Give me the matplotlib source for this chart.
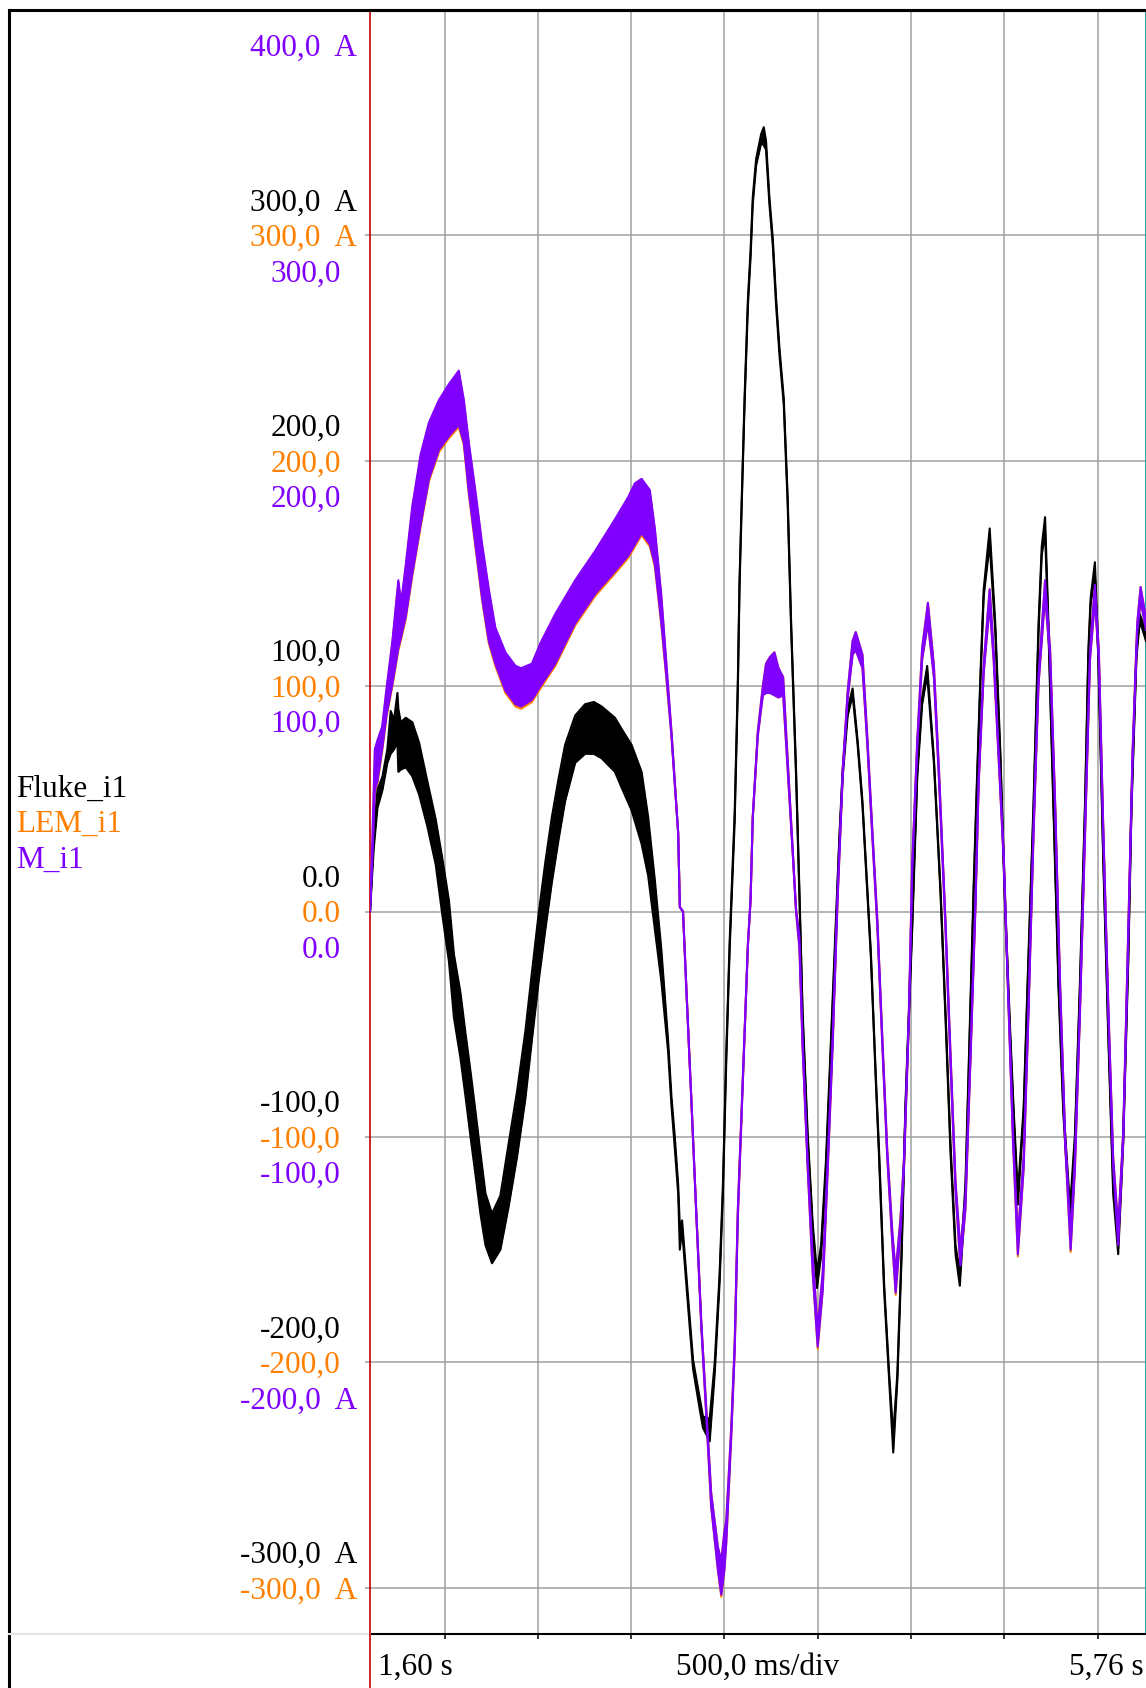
import numpy as np
import matplotlib.pyplot as plt
from matplotlib.lines import Line2D

plt.rcParams['font.family'] = ['Liberation Serif', 'DejaVu Serif']

# recorded currents: (time in s, lower edge in A, upper edge in A) of the ripple band
fluke_i1 = [
    (1.600, 0, 0), (1.620, 28, 34), (1.640, 46, 54), (1.667, 54, 60), (1.693, 66, 72),
    (1.711, 70, 89), (1.729, 72, 85), (1.747, 75, 97), (1.752, 62, 90), (1.765, 63, 84),
    (1.792, 64, 86), (1.827, 60, 84), (1.863, 52, 75), (1.907, 38, 58), (1.952, 21, 41),
    (1.987, -1, 24), (2.023, -22, 5), (2.050, -47, -19), (2.085, -65, -36), (2.112, -82, -54),
    (2.139, -100, -71), (2.166, -117, -89), (2.192, -134, -107), (2.219, -148, -125), (2.254, -156, -134),
    (2.299, -150, -126), (2.343, -131, -103), (2.388, -109, -80), (2.433, -83, -53), (2.468, -57, -27),
    (2.504, -31, -1), (2.540, -8, 22), (2.575, 13, 42), (2.611, 32, 59), (2.646, 49, 74),
    (2.700, 66, 87), (2.753, 70, 92), (2.800, 70, 93), (2.842, 68, 91), (2.913, 62, 86),
    (2.949, 55, 81), (3.002, 45, 74), (3.020, 40, 70), (3.056, 30, 62), (3.091, 16, 42),
    (3.127, -8, 14), (3.162, -31, -17), (3.198, -62, -57), (3.216, -86, -82), (3.234, -105, -100),
    (3.252, -125, -121), (3.261, -150, -140), (3.273, -141, -137), (3.305, -175, -171), (3.332, -203, -199),
    (3.368, -221, -216), (3.385, -229, -224), (3.421, -235, -225), (3.448, -205, -200), (3.474, -165, -161),
    (3.492, -125, -121), (3.510, -66, -62), (3.528, -17, -13), (3.555, 40, 44), (3.572, 99, 103),
    (3.581, 144, 147), (3.593, 181, 184), (3.608, 225, 228), (3.626, 269, 272), (3.640, 290, 293),
    (3.652, 314, 317), (3.670, 331, 334), (3.697, 341, 345), (3.711, 340, 348), (3.723, 338, 342),
    (3.741, 314, 317), (3.759, 296, 299), (3.777, 269, 272), (3.795, 247, 250), (3.818, 225, 228),
    (3.839, 181, 184), (3.857, 127, 130), (3.884, 60, 63), (3.902, 7, 9), (3.919, -47, -44),
    (3.946, -101, -98), (3.973, -141, -138), (3.996, -167, -160), (4.018, -153, -148), (4.044, -115, -111),
    (4.071, -61, -57), (4.098, -7, -4), (4.116, 31, 33), (4.134, 60, 63), (4.161, 87, 90),
    (4.187, 96, 99), (4.214, 74, 76), (4.240, 47, 49), (4.258, 20, 22), (4.285, -20, -18),
    (4.311, -74, -72), (4.329, -109, -106), (4.356, -168, -165), (4.383, -208, -205), (4.405, -240, -232),
    (4.427, -208, -205), (4.449, -155, -152), (4.471, -87, -84), (4.489, -47, -44), (4.507, -7, -4),
    (4.534, 60, 63), (4.560, 92, 95), (4.587, 105, 109), (4.623, 66, 68), (4.659, 7, 9),
    (4.685, -47, -44), (4.712, -107, -103), (4.739, -152, -148), (4.762, -166, -160), (4.792, -125, -121),
    (4.818, -46, -42), (4.837, 11, 14), (4.854, 56, 59), (4.872, 101, 104), (4.890, 140, 143),
    (4.922, 163, 170), (4.952, 124, 128), (4.979, 68, 71), (5.005, 0, 3), (5.032, -56, -53),
    (5.050, -90, -87), (5.073, -130, -125), (5.104, -90, -87), (5.130, -22, -19), (5.157, 45, 48),
    (5.184, 124, 128), (5.201, 158, 162), (5.219, 168, 175), (5.237, 124, 128), (5.264, 45, 48),
    (5.291, -34, -31), (5.317, -90, -87), (5.353, -137, -131), (5.379, -102, -99), (5.406, -34, -31),
    (5.433, 45, 48), (5.451, 113, 116), (5.463, 136, 139), (5.486, 150, 155), (5.504, 113, 116),
    (5.531, 22, 25), (5.558, -56, -53), (5.584, -125, -121), (5.611, -152, -146), (5.638, -102, -99),
    (5.665, -22, -19), (5.682, 45, 48), (5.709, 113, 116), (5.727, 129, 132), (5.760, 120, 124),
]

lem_i1 = [
    (1.600, 0, 0), (1.612, 21, 29), (1.626, 53, 71), (1.640, 57, 75), (1.665, 71, 81),
    (1.690, 87, 99), (1.720, 100, 119), (1.752, 116, 146), (1.767, 121, 136), (1.792, 130, 153),
    (1.827, 149, 179), (1.872, 171, 202), (1.916, 191, 216), (1.970, 204, 226), (2.023, 210, 233),
    (2.076, 215, 239), (2.103, 207, 226), (2.130, 185, 207), (2.166, 161, 185), (2.201, 138, 162),
    (2.237, 119, 142), (2.272, 109, 125), (2.326, 97, 114), (2.380, 91, 108), (2.410, 90, 107),
    (2.468, 93, 109), (2.513, 99, 118), (2.593, 109, 131), (2.700, 127, 146), (2.807, 140, 159),
    (2.913, 150, 173), (2.985, 157, 183), (3.020, 162, 189), (3.056, 167, 191), (3.100, 162, 186),
    (3.127, 153, 169), (3.162, 127, 139), (3.189, 103, 109), (3.216, 78, 80), (3.252, 35, 35),
    (3.261, 2, 2), (3.278, 0, 0), (3.296, -35, -34), (3.323, -84, -84), (3.349, -134, -133),
    (3.376, -184, -182), (3.403, -224, -221), (3.429, -264, -258), (3.465, -292, -282), (3.483, -304, -288),
    (3.500, -292, -275), (3.510, -280, -270), (3.536, -234, -230), (3.555, -195, -192), (3.572, -135, -132),
    (3.599, -75, -73), (3.626, -15, -14), (3.640, 5, 5), (3.652, 42, 42), (3.679, 78, 80),
    (3.706, 96, 100), (3.723, 97, 110), (3.745, 97, 113), (3.768, 96, 115), (3.790, 95, 108),
    (3.815, 96, 104), (3.840, 62, 66), (3.866, 26, 28), (3.884, 0, 1), (3.902, -16, -11),
    (3.919, -60, -57), (3.946, -113, -110), (3.973, -160, -153), (4.000, -194, -185), (4.027, -168, -160),
    (4.054, -114, -110), (4.080, -60, -56), (4.107, 6, 9), (4.134, 60, 63), (4.161, 95, 98),
    (4.187, 114, 120), (4.204, 116, 124), (4.240, 108, 114), (4.267, 73, 76), (4.293, 33, 36),
    (4.320, -7, -4), (4.347, -60, -57), (4.373, -109, -106), (4.400, -147, -142), (4.418, -170, -160),
    (4.444, -142, -136), (4.462, -115, -111), (4.489, -48, -45), (4.507, 19, 22), (4.534, 73, 76),
    (4.560, 112, 117), (4.591, 128, 137), (4.623, 104, 109), (4.650, 59, 63), (4.685, -7, -4),
    (4.712, -67, -63), (4.739, -124, -120), (4.765, -158, -150), (4.792, -132, -127), (4.818, -68, -65),
    (4.845, 0, 3), (4.863, 57, 60), (4.890, 106, 110), (4.922, 136, 143), (4.943, 112, 116),
    (4.970, 68, 71), (4.997, 23, 26), (5.024, -45, -42), (5.047, -102, -98), (5.073, -153, -144),
    (5.104, -114, -109), (5.130, -45, -42), (5.157, 34, 37), (5.184, 101, 105), (5.219, 140, 147),
    (5.246, 112, 116), (5.273, 45, 48), (5.299, -34, -31), (5.326, -102, -98), (5.356, -151, -143),
    (5.379, -114, -109), (5.406, -45, -42), (5.433, 34, 37), (5.460, 112, 116), (5.486, 138, 145),
    (5.507, 112, 116), (5.531, 34, 37), (5.558, -45, -42), (5.584, -113, -109), (5.611, -149, -140),
    (5.638, -102, -98), (5.665, -12, -8), (5.688, 68, 71), (5.713, 124, 128), (5.731, 138, 144),
    (5.760, 125, 130),
]

m_i1 = [
    (1.600, 0, 0), (1.612, 22, 30), (1.626, 54, 72), (1.640, 58, 76), (1.665, 72, 82),
    (1.690, 88, 100), (1.720, 101, 120), (1.752, 117, 147), (1.767, 122, 137), (1.792, 131, 154),
    (1.827, 150, 180), (1.872, 172, 203), (1.916, 192, 217), (1.970, 205, 227), (2.023, 211, 234),
    (2.076, 216, 240), (2.103, 208, 227), (2.130, 186, 208), (2.166, 162, 186), (2.201, 139, 163),
    (2.237, 120, 143), (2.272, 110, 126), (2.326, 98, 115), (2.380, 92, 109), (2.410, 91, 108),
    (2.468, 94, 110), (2.513, 100, 119), (2.593, 110, 132), (2.700, 128, 147), (2.807, 141, 160),
    (2.913, 151, 174), (2.985, 158, 184), (3.020, 163, 190), (3.056, 168, 192), (3.100, 163, 187),
    (3.127, 154, 170), (3.162, 128, 140), (3.189, 104, 110), (3.216, 78, 80), (3.252, 35, 35),
    (3.261, 2, 2), (3.278, 0, 0), (3.296, -35, -34), (3.323, -84, -84), (3.349, -134, -133),
    (3.376, -184, -182), (3.403, -224, -221), (3.429, -264, -258), (3.465, -292, -282), (3.483, -303, -288),
    (3.500, -292, -275), (3.510, -280, -270), (3.536, -234, -230), (3.555, -195, -192), (3.572, -135, -132),
    (3.599, -75, -73), (3.626, -15, -14), (3.640, 5, 5), (3.652, 42, 42), (3.679, 78, 80),
    (3.706, 96, 100), (3.723, 97, 110), (3.745, 97, 113), (3.768, 96, 115), (3.790, 95, 108),
    (3.815, 96, 104), (3.840, 62, 66), (3.866, 26, 28), (3.884, 0, 1), (3.902, -16, -11),
    (3.919, -60, -57), (3.946, -113, -110), (3.973, -160, -153), (4.000, -193, -185), (4.027, -168, -160),
    (4.054, -114, -110), (4.080, -60, -56), (4.107, 6, 9), (4.134, 60, 63), (4.161, 95, 98),
    (4.187, 114, 120), (4.204, 116, 124), (4.240, 108, 114), (4.267, 73, 76), (4.293, 33, 36),
    (4.320, -7, -4), (4.347, -60, -57), (4.373, -109, -106), (4.400, -147, -142), (4.418, -169, -160),
    (4.444, -142, -136), (4.462, -115, -111), (4.489, -48, -45), (4.507, 19, 22), (4.534, 73, 76),
    (4.560, 112, 117), (4.591, 128, 137), (4.623, 104, 109), (4.650, 59, 63), (4.685, -7, -4),
    (4.712, -67, -63), (4.739, -124, -120), (4.765, -157, -150), (4.792, -132, -127), (4.818, -68, -65),
    (4.845, 0, 3), (4.863, 57, 60), (4.890, 106, 110), (4.922, 136, 143), (4.943, 112, 116),
    (4.970, 68, 71), (4.997, 23, 26), (5.024, -45, -42), (5.047, -102, -98), (5.073, -152, -144),
    (5.104, -114, -109), (5.130, -45, -42), (5.157, 34, 37), (5.184, 101, 105), (5.219, 140, 147),
    (5.246, 112, 116), (5.273, 45, 48), (5.299, -34, -31), (5.326, -102, -98), (5.356, -150, -143),
    (5.379, -114, -109), (5.406, -45, -42), (5.433, 34, 37), (5.460, 112, 116), (5.486, 138, 145),
    (5.507, 112, 116), (5.531, 34, 37), (5.558, -45, -42), (5.584, -113, -109), (5.611, -148, -140),
    (5.638, -102, -98), (5.665, -12, -8), (5.688, 68, 71), (5.713, 124, 128), (5.731, 138, 144),
    (5.760, 125, 130),
]

channel_names = ['Fluke_i1', 'LEM_i1', 'M_i1']
channel_colors = ['#000000', '#FF8000', '#8000FF']

# scale labels shown for each channel (first and last carry the unit)
fluke_scale = [300, 200, 100, 0, -100, -200, -300]
lem_scale = [300, 200, 100, 0, -100, -200, -300]
m_scale = [400, 300, 200, 100, 0, -100, -200]

grid_times = [2.0, 2.5, 3.0, 3.5, 4.0, 4.5, 5.0, 5.5]
grid_currents = [-300, -200, -100, 0, 100, 200, 300, 400]
t_start, t_end = 1.60, 5.76
time_labels = ['1,60 s', '500,0 ms/div', '5,76 s']

W, H = 1146, 1688
fig = plt.figure(figsize=(W / 100, H / 100), dpi=100)
# plot area in pixels: x 370..1146, y 10..1634
ax = fig.add_axes([370 / W, 1 - 1634 / H, 776 / W, 1624 / H])
ax.set_xlim(t_start, t_end)
ax.set_ylim(-320.5, 400)

ax.set_xticks(grid_times)
ax.set_yticks(grid_currents)
ax.set_xticklabels([])
ax.set_yticklabels([])
ax.grid(True, color='#A0A0A0', lw=1.1)
ax.tick_params(axis='x', direction='out', length=3.6, width=1.1, color='black')
ax.tick_params(axis='y', direction='out', length=3.6, width=1.1, color='#A0A0A0')

ax.spines['left'].set_color('#C00000')
ax.spines['left'].set_linewidth(1.2)
ax.spines['right'].set_color('#20A8A8')
ax.spines['right'].set_linewidth(1.4)
ax.spines['top'].set_color('black')
ax.spines['top'].set_linewidth(2.2)
ax.spines['bottom'].set_color('black')
ax.spines['bottom'].set_linewidth(1.5)

# traces: ripple band filled, edges drawn so thin parts still show
for data, color, z in [(lem_i1, channel_colors[1], 3), (fluke_i1, channel_colors[0], 4), (m_i1, channel_colors[2], 5)]:
    arr = np.array(data, dtype=float)
    t, lo, hi = arr[:, 0], arr[:, 1], arr[:, 2]
    ax.fill_between(t, lo, hi, color=color, lw=0, zorder=z)
    ax.plot(t, lo, color=color, lw=1.5, zorder=z)
    ax.plot(t, hi, color=color, lw=1.5, zorder=z)


def fmt(v):
    if v == 0:
        return '0.0'
    return ('%.1f' % v).replace('.', ',')


# scale labels left of the plot, three rows per grid line
yt = ax.get_yaxis_transform()
for scale, color, dy in [(fluke_scale, channel_colors[0], 23.4),
                         (lem_scale, channel_colors[1], -2.2),
                         (m_scale, channel_colors[2], -27.8)]:
    for i, v in enumerate(scale):
        if i == 0 or i == len(scale) - 1:
            txt, dx = fmt(v) + '  A', -9.4
        else:
            txt, dx = fmt(v), -20.9
        ax.annotate(txt, xy=(0, v), xycoords=yt, xytext=(dx, dy), textcoords='offset points',
                    ha='right', va='center', fontsize=22.5, color=color, annotation_clip=False)

# channel names
for i, (name, color) in enumerate(zip(channel_names, channel_colors)):
    fig.text(16 / W, 1 - (789 + 35.5 * i) / H, name, fontsize=22.5, color=color, ha='left', va='center')

# time axis labels
fig.text(378 / W, 1 - 1667 / H, time_labels[0], fontsize=22.5, ha='left', va='center')
fig.text(758 / W, 1 - 1667 / H, time_labels[1], fontsize=22.5, ha='center', va='center')
fig.text(1144 / W, 1 - 1667 / H, time_labels[2], fontsize=22.5, ha='right', va='center')

# frame around the panel
fig.add_artist(Line2D([9 / W, 1], [1 - 10 / H, 1 - 10 / H], color='black', lw=2.2))
fig.add_artist(Line2D([9 / W, 9 / W], [0, 1 - 10 / H], color='black', lw=2.2))
fig.add_artist(Line2D([9 / W, 370 / W], [1 - 1634 / H, 1 - 1634 / H], color='#E4E4E4', lw=1.5))
fig.add_artist(Line2D([370 / W, 370 / W], [0, 1 - 1634 / H], color='#C00000', lw=1.2))

fig.savefig('out.png', dpi=100)
